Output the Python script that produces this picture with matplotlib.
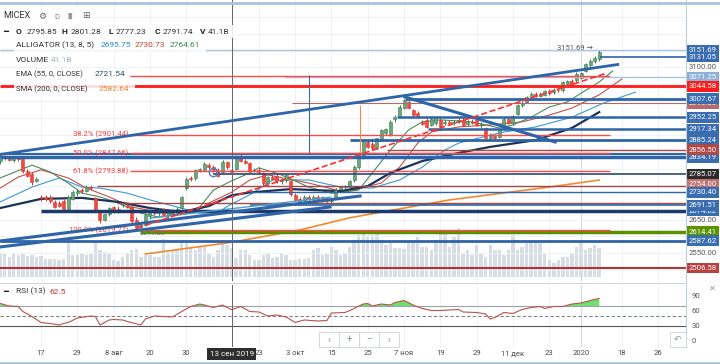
import numpy as np
import matplotlib.pyplot as plt
import matplotlib.transforms as mtransforms
from matplotlib.patches import Rectangle

plt.rcParams['font.family'] = ['Roboto', 'DejaVu Sans']

W, H = 720, 364

# bar number 0 is 17 Jul 2019, one step per trading session
bars = np.arange(-9, 124)

opens = [2822, 2836, 2830, 2826, 2831, 2830, 2795, 2786, 2764, 2716,
         2718, 2716, 2702, 2700, 2706, 2680, 2712, 2728, 2736, 2733,
         2746, 2713, 2668, 2650, 2665, 2686, 2680, 2692, 2690, 2688,
         2650, 2628, 2634, 2660, 2672, 2668, 2680, 2664, 2668, 2670,
         2684, 2742, 2771, 2772, 2797, 2798, 2812, 2804, 2798, 2790,
         2820, 2795.85, 2800, 2834, 2822, 2816, 2796, 2798, 2788, 2757,
         2775, 2778, 2763, 2768, 2765, 2724, 2712, 2705, 2716, 2710,
         2718, 2708, 2714, 2706, 2716, 2740, 2746, 2750, 2766, 2806,
         2832, 2880, 2874, 2862, 2886, 2905, 2902, 2948, 2954, 2980,
         2999, 2974, 2966, 2940, 2945, 2930, 2936, 2946, 2936, 2940,
         2936, 2940, 2946, 2932, 2940, 2944, 2930, 2920, 2892, 2896,
         2894, 2920, 2948, 2936, 2962, 2988, 2998, 3012, 3022, 3016,
         3020, 3028, 3026, 3034, 3032, 3050, 3060, 3062, 3070, 3090,
         3106, 3118, 3124]
highs = [2842, 2842, 2836, 2834, 2836, 2834, 2800, 2790, 2776, 2722,
         2724, 2722, 2708, 2706, 2712, 2722, 2738, 2740, 2744, 2752,
         2752, 2718, 2672, 2670, 2688, 2690, 2690, 2698, 2696, 2692,
         2656, 2640, 2668, 2676, 2680, 2684, 2684, 2676, 2680, 2686,
         2720, 2776, 2778, 2800, 2802, 2820, 2818, 2810, 2802, 2826,
         2824, 2801.28, 2840, 2846, 2828, 2820, 2802, 2804, 2792, 2780,
         2782, 2784, 2772, 2786, 2768, 2728, 2716, 2722, 2722, 2722,
         2724, 2720, 2718, 2716, 2742, 2750, 2752, 2768, 2810, 2850,
         2888, 2886, 2890, 2892, 2918, 2922, 2944, 2960, 2988, 3008,
         3004, 2978, 2970, 2946, 2950, 2952, 2954, 2950, 2944, 2946,
         2944, 2950, 2954, 2944, 2948, 2948, 2940, 2924, 2906, 2904,
         2922, 2954, 2954, 2960, 2992, 3000, 3016, 3026, 3028, 3026,
         3034, 3036, 3038, 3040, 3060, 3064, 3066, 3086, 3088, 3114,
         3124, 3134, 3151.69]
lows = [2815, 2826, 2822, 2820, 2824, 2788, 2776, 2752, 2760, 2706,
        2706, 2700, 2684, 2686, 2676, 2676, 2708, 2720, 2728, 2730,
        2736, 2676, 2640, 2646, 2660, 2670, 2668, 2686, 2684, 2640,
        2620, 2620, 2630, 2652, 2662, 2660, 2660, 2650, 2660, 2662,
        2680, 2738, 2764, 2768, 2792, 2794, 2800, 2790, 2776, 2786,
        2800, 2777.23, 2796, 2820, 2814, 2790, 2790, 2786, 2750, 2752,
        2766, 2758, 2756, 2762, 2720, 2704, 2698, 2700, 2704, 2706,
        2704, 2702, 2700, 2698, 2712, 2736, 2740, 2746, 2762, 2800,
        2828, 2862, 2856, 2858, 2882, 2900, 2898, 2940, 2950, 2976,
        2976, 2956, 2950, 2930, 2922, 2926, 2930, 2920, 2930, 2932,
        2930, 2936, 2926, 2928, 2932, 2926, 2922, 2884, 2886, 2886,
        2890, 2916, 2932, 2930, 2958, 2984, 2994, 3008, 3012, 3012,
        3016, 3020, 3022, 3028, 3028, 3046, 3042, 3058, 3066, 3086,
        3100, 3112, 3118]
closes = [2838, 2832, 2826, 2831, 2828, 2793, 2780, 2762, 2771, 2714,
          2710, 2704, 2688, 2690, 2680, 2716, 2730, 2734, 2733, 2746,
          2742, 2680, 2650, 2665, 2683, 2674, 2676, 2692, 2688, 2645,
          2626, 2634, 2662, 2670, 2668, 2678, 2664, 2670, 2674, 2682,
          2716, 2771, 2770, 2796, 2798, 2815, 2805, 2798, 2780, 2820,
          2804, 2791.74, 2834, 2824, 2818, 2794, 2798, 2790, 2757, 2775,
          2770, 2763, 2768, 2782, 2725, 2708, 2703, 2718, 2710, 2718,
          2708, 2716, 2704, 2712, 2738, 2746, 2748, 2764, 2806, 2846,
          2880, 2866, 2862, 2890, 2914, 2918, 2940, 2952, 2984, 3004,
          2980, 2960, 2954, 2932, 2925, 2948, 2950, 2926, 2940, 2936,
          2940, 2946, 2930, 2940, 2936, 2930, 2934, 2890, 2898, 2892,
          2918, 2948, 2936, 2956, 2988, 2996, 3012, 3022, 3016, 3022,
          3030, 3024, 3034, 3032, 3056, 3060, 3046, 3082, 3084, 3110,
          3120, 3128, 3146]
volumes = [34, 32, 29, 32, 31, 32, 30, 31, 29, 30,
           25, 25, 26, 24, 25, 53, 31, 31, 32, 31,
           34, 50, 38, 36, 34, 24, 22, 29, 34, 38,
           39, 29, 31, 31, 29, 28, 54, 36, 38, 39,
           50, 48, 41, 38, 43, 44, 34, 29, 38, 48,
           46, 41, 27, 38, 38, 31, 24, 24, 31, 34,
           27, 29, 34, 31, 24, 24, 25, 25, 27, 38,
           41, 31, 34, 43, 38, 31, 34, 43, 53, 60,
           61, 58, 60, 62, 53, 46, 48, 41, 41, 40,
           48, 50, 57, 43, 43, 38, 53, 64, 64, 43,
           57, 69, 34, 38, 31, 46, 34, 29, 46, 38,
           38, 31, 38, 60, 38, 43, 48, 50, 50, 48,
           34, 24, 20, 24, 28, 28, 34, 43, 48, 38,
           41, 46, 41.1]

date_ticks = [0, 8, 16, 24, 32, 48, 56, 64, 72, 80, 88, 96, 104, 112, 119, 128, 136]
date_labels = ['17', '29', '8 авг', '20', '30', '23', '3 окт', '15', '25', '7 ноя',
               '19', '29', '11 дек', '23', '2020', '18', '26']
cursor_bar = 42
cursor_label = '13 сен 2019'

# alligator (13, 8, 5), EMA 55, SMA 200
jaw_bars = [-9, -2, 4, 9, 13, 19, 24, 30, 35, 39, 42, 46, 51, 59, 66, 73, 79, 84, 89, 92, 99, 102, 109, 117, 124, 131]
jaw_vals = [2702, 2746, 2773, 2746, 2743, 2728, 2708, 2687, 2669, 2672, 2695.75, 2723, 2767, 2767, 2746, 2743,
            2767, 2805, 2856, 2876, 2900, 2909, 2924, 2953, 2995, 3027]
teeth_bars = [-9, -5, 0, 6, 10, 15, 20, 26, 30, 34, 37, 42, 46, 50, 59, 67, 75, 79, 83, 86, 92, 99, 106, 112, 117, 123, 128]
teeth_vals = [2743, 2776, 2797, 2773, 2743, 2717, 2687, 2672, 2663, 2672, 2699, 2730.73, 2767, 2782, 2758, 2731,
              2758, 2805, 2876, 2909, 2924, 2930, 2939, 2959, 2980, 3019, 3066]
lips_bars = [-9, -2, 2, 6, 9, 13, 17, 22, 26, 29, 32, 35, 38, 42, 46, 48, 53, 59, 64, 70, 73, 77, 81, 84, 88,
             95, 101, 104, 108, 112, 116, 119, 123, 126]
lips_vals = [2773, 2811, 2791, 2758, 2728, 2717, 2699, 2669, 2657, 2663, 2669, 2687, 2737, 2764.61, 2788, 2803,
             2782, 2746, 2728, 2737, 2788, 2856, 2915, 2939, 2945, 2939, 2921, 2930, 2953, 2983, 2998, 3024, 3057, 3090]
ema_bars = [-9, 0, 9, 17, 24, 31, 37, 42, 46, 55, 66, 72, 77, 84, 92, 99, 109, 117, 123]
ema_vals = [2684, 2711, 2714, 2702, 2684, 2672, 2690, 2721.54, 2730, 2740, 2734, 2749, 2788, 2823, 2847, 2865,
            2885, 2921, 2968]
sma_bars = [23, 42, 57, 68, 90, 112, 123]
sma_vals = [2548, 2582.64, 2619, 2655, 2708, 2746, 2767]

rsi_bars = [-9, -7, -5, -4, -2, 0, 2, 4, 5, 6, 8, 11, 12, 13, 15, 16, 18, 19, 22, 23,
            25, 27, 29, 31, 33, 35, 36, 38, 40, 42, 44, 46, 48, 50, 52, 54, 56, 58, 61, 63,
            64, 67, 69, 71, 72, 73, 75, 77, 78, 80, 82, 84, 86, 88, 90, 92, 93, 96, 98, 99,
            100, 102, 104, 106, 108, 110, 111, 113, 115, 117, 119, 121, 123]
rsi_vals = [75, 70, 69, 59, 49, 37, 35, 32, 35, 37, 46, 50, 49, 32, 42, 43, 42, 39, 32, 44,
            50, 49, 48, 59, 69, 74, 72, 67, 72, 62.5, 69, 59, 58, 50, 52, 48, 37, 42, 40, 41,
            56, 57, 65, 74, 75, 70, 74, 72, 77, 81, 72, 65, 61, 61, 62, 63, 58, 57, 54, 44,
            47, 57, 55, 63, 67, 69, 65, 69, 69, 74, 76, 81, 85]

# horizontal drawings: price, colour, width, first bar, last bar (None = chart edge)
levels = [
    (3151.69, '#a9c3e3', 1.0, None, None),
    (3131.05, '#2e64a8', 1.2, 123.2, None),
    (3071.25, '#a9c3e3', 1.0, 53.8, None),
    (3044.58, '#ff1a1a', 2.0, None, None),
    (3007.67, '#2e64a8', 2.0, 80.2, None),
    (2993.80, '#b06a6a', 0.8, 55.3, None),
    (2952.25, '#2e64a8', 1.8, 78.4, None),
    (2917.34, '#2e64a8', 1.8, 85.3, None),
    (2885.24, '#2e64a8', 2.0, 68.0, None),
    (2856.50, '#a84848', 1.0, 76.2, None),
    (2843.00, '#2e64a8', 1.5, None, None),
    (2834.19, '#2e64a8', 2.5, None, None),
    (2785.07, '#274a7a', 1.2, 38.0, None),
    (2750.00, '#a04848', 1.0, 12.3, None),
    (2730.40, '#2e64a8', 1.0, 46.0, None),
    (2700.00, '#a04848', 1.0, 16.7, None),
    (2691.51, '#2e64a8', 1.2, 46.0, None),
    (2675.00, '#1c3a6e', 2.5, 0.0, None),
    (2614.41, '#5a8f00', 2.5, 21.8, None),
    (2587.62, '#2e64a8', 2.0, None, None),
    (2506.58, '#a83838', 1.5, None, None),
]
fib_start, fib_end = 19.6, 125.4
fib_levels = [3075.6, 2901.44, 2847.66, 2793.88, 2619.77]
# the 0 % caption sits under the legend block and is not visible
fib_texts = [None, '38.2% (2901.44)', '50.0% (2847.66)', '61.8% (2793.88)', '100.0% (2619.77)']

# sloped drawings: (bar, price) -> (bar, price)
trend_lines = [
    ((-9.03, 2842.5), (127.1, 3108.9), '#2e64a8', 2.0, '-'),
    ((-9.03, 2586.4), (70.3, 2719.6), '#2e64a8', 2.2, '-'),
    ((-9.03, 2568.7), (63.7, 2687.1), '#2e64a8', 2.2, '-'),
    ((24.0, 2654.0), (63.7, 2716.0), '#4aa0d0', 1.0, '-'),
    ((80.2, 3012.7), (113.3, 2879.5), '#2e64a8', 2.2, '-'),
    ((21.2, 2624.9), (124.7, 3083.7), '#ff3030', 1.2, '--'),
]

# price tags on the right axis
tags = [
    (3151.69, '3151.69', '#3a6db0'),
    (3131.05, '3131.05', '#3a6db0'),
    (3071.25, '3071.25', '#8fb0d8'),
    (3044.58, '3044.58', '#ff1a1a'),
    (2993.80, '2993.80', '#b56b6b'),
    (3007.67, '3007.67', '#3a6db0'),
    (2952.25, '2952.25', '#3a6db0'),
    (2917.34, '2917.34', '#3a6db0'),
    (2885.24, '2885.24', '#3a6db0'),
    (2834.19, '2834.19', '#3a6db0'),
    (2856.50, '2856.50', '#b04848'),
    (2785.07, '2785.07', '#2b2b2b'),
    (2754.00, '2754.00', '#c07070'),
    (2730.40, '2730.40', '#3a6db0'),
    (2674.82, '2674.82', '#3a6db0'),
    (2691.51, '2691.51', '#3a6db0'),
    (2614.41, '2614.41', '#5c9400'),
    (2587.62, '2587.62', '#3a6db0'),
    (2506.58, '2506.58', '#b84040'),
]
plain_ticks = [3100, 2650, 2550]

# ---------------------------------------------------------------
fig = plt.figure(figsize=(W / 100, H / 100), dpi=100)
fig.patch.set_facecolor('white')


def rect_px(x0, y0, x1, y1):
    return [x0 / W, 1 - y1 / H, (x1 - x0) / W, (y1 - y0) / H]


def fig_text(px, py, s, **kw):
    kw.setdefault('fontsize', 6.0)
    kw.setdefault('va', 'center')
    return fig.text(px / W, 1 - py / H, s, **kw)


def fig_box(x0, y0, x1, y1, **kw):
    r = Rectangle((x0 / W, 1 - y1 / H), (x1 - x0) / W, (y1 - y0) / H,
                  transform=fig.transFigure, **kw)
    fig.add_artist(r)


main_rect = rect_px(0, 0, 686, 281)
axv = fig.add_axes(main_rect)
ax = fig.add_axes(main_rect, sharex=axv)
ax.patch.set_visible(False)
axr = fig.add_axes(rect_px(0, 285, 686, 347), sharex=axv)

x_lo, x_hi = -9.035, 142.13
axv.set_xlim(x_lo, x_hi)
ax.set_ylim(2468.0, 3299.8)
axv.set_ylim(-5.7, 393)
axr.set_ylim(-12, 112)

for a in (axv, ax, axr):
    for s in a.spines.values():
        s.set_visible(False)
    a.tick_params(left=False, right=False, labelleft=False, bottom=False, labelbottom=False)

# grid
for t in date_ticks:
    axv.axvline(t, color='#edf0f3', lw=0.6, zorder=0)
    axr.axvline(t, color='#edf0f3', lw=0.6, zorder=0)
axv.axvline(119, color='#d4d9de', lw=0.8, zorder=0)
axr.axvline(119, color='#d4d9de', lw=0.8, zorder=0)
for p in range(2500, 3300, 50):
    ax.axhline(p, color='#eef1f4', lw=0.6, zorder=0)

# volume
axv.bar(bars, volumes, width=0.75, color='#d6dde4', zorder=2)

# indicators
ax.plot(jaw_bars, jaw_vals, color='#3a9ad9', lw=0.8, zorder=4)
ax.plot(teeth_bars, teeth_vals, color='#c0504a', lw=0.8, zorder=4)
ax.plot(lips_bars, lips_vals, color='#4a8a5a', lw=0.8, zorder=4)
ax.plot(ema_bars, ema_vals, color='#1b3358', lw=1.6, zorder=4)
ax.plot(sma_bars, sma_vals, color='#f08a30', lw=1.2, zorder=4)

# candles
o = np.array(opens); h = np.array(highs); l = np.array(lows); c = np.array(closes)
up = c >= o
body_col = np.where(up, '#6aa87b', '#f04a3f')
edge_col = np.where(up, '#3d7a50', '#d8382e')
ax.vlines(bars, l, h, colors=edge_col, lw=0.7, zorder=5)
ax.bar(bars, np.maximum(np.abs(c - o), 1.5), bottom=np.minimum(o, c), width=0.66,
       color=body_col, edgecolor=edge_col, lw=0.4, zorder=5)

# drawings
for price, col, lw, b0, b1 in levels:
    ax.hlines(price, x_lo if b0 is None else b0, x_hi if b1 is None else b1,
              colors=col, lw=lw, zorder=6)
for price, txt in zip(fib_levels, fib_texts):
    ax.hlines(price, fib_start, fib_end, colors='#ff4a4a', lw=1.0, zorder=6)
    if txt:
        ax.text(fib_start - 0.3, price, txt, ha='right', va='center', fontsize=5.5,
                color='#ff3b3b', zorder=6)
for (b0, p0), (b1, p1), col, lw, ls in trend_lines:
    ax.plot([b0, b1], [p0, p1], color=col, lw=lw, ls=ls, zorder=6)
ax.vlines(59.06, 2847, 3078, colors='#3a6d8a', lw=0.8, zorder=6)
ax.vlines(70.3, 2847, 2989, colors='#e8904a', lw=0.8, zorder=6)
ax.plot([38], [2791.6], marker='o', ms=6, mfc='none', mec='#4a7fc0', mew=1.0, zorder=7)
ax.text(121.6, 3158, '3151.69 \u2192', ha='right', va='center', fontsize=5.5, color='#555555', zorder=7)
ax.text(24.5, 2610, '2619.20', ha='center', va='center', fontsize=5, color='#777777', zorder=7)

# crosshair
ax.axvline(cursor_bar, color='#666666', lw=0.7, zorder=8)
axr.axvline(cursor_bar, color='#666666', lw=0.7, zorder=8)

# right axis
tr = mtransforms.blended_transform_factory(ax.transAxes, ax.transData)
for p in plain_ticks:
    ax.text(1.004, p, f'{p:.2f}', transform=tr, ha='left', va='center', fontsize=5.6, color='#555555')
for k, (price, txt, col) in enumerate(tags):
    ax.text(1.004, price, txt, transform=tr, ha='left', va='center', fontsize=5.6, color='white',
            zorder=10 + k, bbox=dict(boxstyle='square,pad=0.3', fc=col, ec='none'))

# RSI panel
axr.axhline(70, color='#9aa3ab', lw=0.8, zorder=1)
axr.axhline(50, color='#7d858c', lw=0.8, ls=(0, (3, 2)), zorder=1)
axr.axhline(30, color='#555555', lw=0.8, zorder=1)
rb = np.array(rsi_bars); rv = np.array(rsi_vals, dtype=float)
axr.fill_between(rb, 70, rv, where=rv >= 70, interpolate=True, color='#6fe06f', lw=0, zorder=2)
axr.plot(rb, rv, color='#b9524c', lw=0.8, zorder=3)
trr = mtransforms.blended_transform_factory(axr.transAxes, axr.transData)
for v in (90, 60, 30, 0):
    axr.text(1.008, v, str(v), transform=trr, ha='left', va='center', fontsize=5.6, color='#555555')

axr.set_xticks(date_ticks, date_labels)
axr.tick_params(labelbottom=True, length=0, pad=2.5, labelsize=5.5, labelcolor='#4a4a4a')
axr.text(cursor_bar, -0.115, cursor_label, transform=axr.get_xaxis_transform(), ha='center',
         va='center', fontsize=5.8, color='white', zorder=20,
         bbox=dict(boxstyle='square,pad=0.35', fc='#2e2e2e', ec='none'))

# frame lines
fig.add_artist(plt.Line2D([686 / W, 686 / W], [1 - 347 / H, 1], transform=fig.transFigure,
                          color='#c5cdd5', lw=0.8))
fig.add_artist(plt.Line2D([0, 686 / W], [1 - 283 / H, 1 - 283 / H], transform=fig.transFigure,
                          color='#d0d7de', lw=0.8))
fig.add_artist(plt.Line2D([0, 1], [1 - 3 / H, 1 - 3 / H], transform=fig.transFigure,
                          color='#a8c2dc', lw=2))
fig.add_artist(plt.Line2D([0, 1], [1 - 363 / H, 1 - 363 / H], transform=fig.transFigure,
                          color='#a8c2dc', lw=2))

# legend block
for x0, y0, x1, y1 in [(0, 8, 95, 24), (0, 25, 238, 38), (14, 39, 206, 52), (14, 53, 80, 67),
                       (14, 68, 130, 81), (14, 82, 135, 96), (0, 285, 66, 298)]:
    fig_box(x0, y0, x1, y1, fc='white', ec='none', alpha=0.85, zorder=2)

fig_text(3, 16, 'MICEX', color='#333333', fontsize=6.6)
fig_text(38, 16, '\u2699', color='#666666', fontsize=6.5)
fig_text(54, 17, 'D', color='#888888', fontsize=5.5)
fig_text(66, 16, '\u2590\u258c', color='#999999', fontsize=4.5)
fig_text(82, 16, '\u229e', color='#666666', fontsize=6.5)

fig_text(3, 31.5, '\u2501', color='#222222', fontsize=6)
ohlc = [('O', 16, True), ('2795.85', 27, False), ('H', 62, True), ('2801.28', 71, False),
        ('L', 109, True), ('2777.23', 116, False), ('C', 155, True), ('2791.74', 163, False),
        ('V', 200, True), ('41.1B', 208, False)]
for s, px, bold in ohlc:
    fig_text(px, 31.5, s, color='#222222' if bold else '#333333',
             fontweight='bold' if bold else 'normal')

fig_text(16, 45, 'ALLIGATOR (13, 8, 5)', color='#333333')
fig_text(101, 45, '2695.75', color='#2a8ad0')
fig_text(135, 45, '2730.73', color='#d04030')
fig_text(170, 45, '2764.61', color='#3c8a4a')
fig_text(16, 60, 'VOLUME', color='#333333')
fig_text(51, 60, '41.1B', color='#a0b4c8')
fig_text(16, 74, 'EMA (55, 0, CLOSE)', color='#333333', fontsize=5.6)
fig_text(95, 74, '2721.54', color='#2c4a70')
fig_text(16, 89, 'SMA (200, 0, CLOSE)', color='#333333', fontsize=5.6)
fig_text(99, 89, '2582.64', color='#e08a30')

fig_text(3, 291.5, '\u2501', color='#222222', fontsize=6)
fig_text(16, 291.5, 'RSI (13)', color='#333333')
fig_text(50, 291.5, '62.5', color='#c0392b')
fig_text(709, 289, '\u2715', color='#999999', fontsize=6)

# navigation buttons
for k, sym in enumerate(['\u2039', '+', '\u2212', '\u203a']):
    x0 = 319 + 20 * k
    fig_box(x0, 332, x0 + 20, 347, fc='white', ec='#ccd3da', lw=0.6, zorder=2)
    fig_text(x0 + 10, 339.5, sym, ha='center', color='#8a939b', fontsize=7)
fig_box(670, 332, 686, 347, fc='white', ec='#ccd3da', lw=0.6, zorder=2)
fig_text(678, 339.5, '\u21b6', ha='center', color='#8a939b', fontsize=6.5)

fig.savefig('out.png', dpi=100)
